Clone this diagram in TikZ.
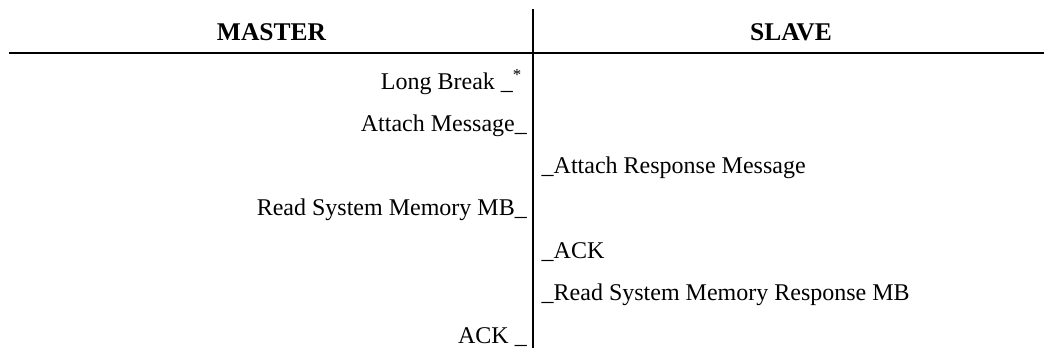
\documentclass[tikz,border=0pt]{standalone}
\usepackage{fontspec}
\setmainfont{Liberation Serif}
\begin{document}
\begin{tikzpicture}[x=1pt,y=-1pt,
  txt/.style={inner sep=0pt,font=\fontsize{24}{28}\selectfont},
  mtxt/.style={txt,anchor=base east},
  stxt/.style={txt,anchor=base west},
  hdr/.style={inner sep=0pt,anchor=base,font=\fontsize{25.5}{30}\selectfont\bfseries},
  rule/.style={line width=2pt}]
\useasboundingbox (0,0) rectangle (1044,348);
% dividers
\coordinate (hl) at (9,52.7);
\coordinate (hr) at (1044,52.7);
\coordinate (vt) at (533.3,9);
\coordinate (vb) at (533.3,348);
\draw[rule] (hl) -- (hr);
\draw[rule] (vt) -- (vb);
% headers
\node[hdr] (master) at (271.5,40) {MASTER};
\node[hdr] (slave) at (791,40) {SLAVE};
% master messages
\node[mtxt] (m1) at (522,89.3) {Long Break \_\textsuperscript{*}};
\node[mtxt] (m2) at (527,131) {Attach Message\_};
\node[mtxt] (m3) at (527,215.5) {Read System Memory MB\_};
\node[mtxt] (m4) at (527,343) {ACK \_};
% slave messages
\node[stxt] (s1) at (541.5,173.3) {\_Attach Response Message};
\node[stxt] (s2) at (541.5,258) {\_ACK};
\node[stxt] (s3) at (541.5,300.5) {\_Read System Memory Response MB};
\end{tikzpicture}
\end{document}
